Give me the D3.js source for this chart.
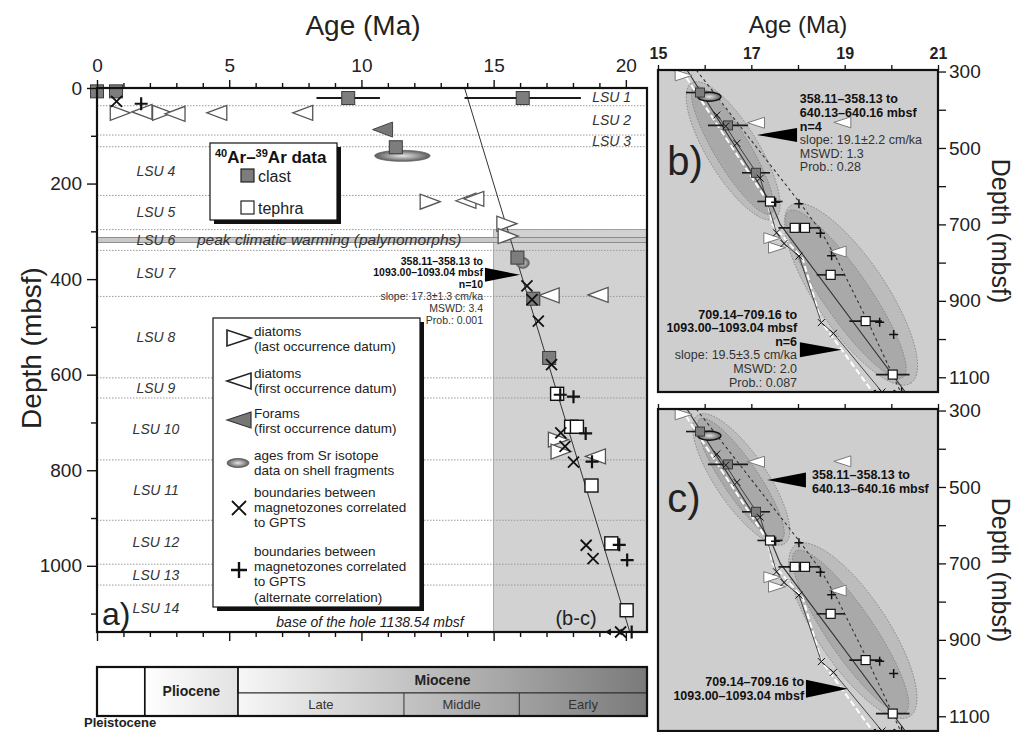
<!DOCTYPE html>
<html>
<head>
<meta charset="utf-8">
<script src="https://cdn.jsdelivr.net/npm/d3@7"></script>
<style>
  html, body { margin: 0; padding: 0; background: #fff; }
  svg { display: block; }
</style>
</head>
<body>
<svg id="chart" width="1015" height="732"></svg>
<script>
// ---------------- data ----------------
const ageTicksMain = [0, 5, 10, 15, 20];
const depthTicksMain = [0, 200, 400, 600, 800, 1000];
const ageTicksZoom = [15, 17, 19, 21];
const depthTicksZoom = [300, 500, 700, 900, 1100];
const holeBase = 1138.54;

// lithostratigraphic unit boundaries (mbsf) and names
const lsuBoundaries = [37.07, 98.47, 122.86, 224.82, 296.34, 339.92, 436.18, 606.70, 648.74, 778.34, 904.66, 996.69, 1040.28];
const lsuNames = ["LSU 1", "LSU 2", "LSU 3", "LSU 4", "LSU 5", "LSU 6", "LSU 7", "LSU 8", "LSU 9", "LSU 10", "LSU 11", "LSU 12", "LSU 13", "LSU 14"];
const warmingDepth = 318;

// [age (Ma), depth (mbsf), age uncertainty (Ma)]
const clastAges = [[0.0, 7, 0], [0.72, 7, 0], [9.5, 21, 1.2], [16.1, 21, 2.2], [11.3, 124, 0],
                   [15.9, 355, 0.3], [16.5, 441, 0.43], [17.1, 565, 0.3]];
const tephraAges = [[17.4, 640, 0.27], [17.93, 709, 0.35], [18.15, 709, 0.33], [18.7, 832, 0.3],
                    [19.45, 953, 0.35], [20.03, 1093, 0.36]];
const srAges = [[11.55, 142, 1.05], [16.1, 366, 0.25]];
// [age (Ma), depth (mbsf)]
const diatomLO = [[0.88, 52], [2.48, 52], [12.6, 238], [15.5, 284], [15.55, 310], [17.45, 736], [17.55, 761]];
const diatomFO = [[1.7, 50], [2.95, 54], [4.53, 52], [7.78, 52], [13.95, 236], [14.25, 232], [17.1, 434], [18.95, 433], [18.85, 771]];
const foramFO = [[10.8, 87]];
const magBounds = [[0.74, 28], [16.26, 414], [16.45, 443], [16.69, 488], [17.19, 579], [17.54, 722], [17.7, 750],
                   [18.02, 783], [18.5, 957], [18.76, 985], [19.8, holeBase]];
const magBoundsAlt = [[1.67, 33], [17.52, 642], [18.02, 646], [18.48, 723], [18.72, 782], [19.75, 956], [20.05, 988], [20.22, holeBase]];

// age model (panel a) and fitted lines / error ellipses (panels b, c)
const ageModel = [[13.9, 0], [20.15, holeBase]];
const fitSolid = [[15.62, 296], [17.45, 650], [17.62, 700], [20.3, holeBase]];
const fitDashed = [[15.82, 296], [18.05, 645], [18.5, 720], [18.85, 795], [19.5, 955], [20.2, holeBase]];
const fitWhite = [[15.5, 296], [17.35, 640], [17.45, 700], [18.1, 790], [18.5, 955], [19.6, holeBase]];
const ellipsesB = [
  { from: [15.72, 330], to: [17.5, 685], hw: 0.55, tone: "outer" },
  { from: [15.78, 340], to: [17.42, 672], hw: 0.38, tone: "inner" },
  { from: [17.85, 650], to: [20.42, 1115], hw: 0.75, tone: "outer" },
  { from: [17.8, 665], to: [20.25, 1100], hw: 0.5, tone: "inner" }
];
const ellipsesC = [
  { from: [15.85, 312], to: [17.72, 648], hw: 0.55, tone: "outer" },
  { from: [15.9, 322], to: [17.65, 638], hw: 0.38, tone: "inner" },
  { from: [17.95, 652], to: [20.4, 1100], hw: 0.75, tone: "outer" },
  { from: [17.95, 668], to: [20.3, 1090], hw: 0.5, tone: "inner" }
];

// fit statistics
const noteA = { anchor: [14.6, 362], tip: [16.0, 391], base: 14.67, half: 7, align: "end",
  lines: [["358.11–358.13 to", 1], ["1093.00–1093.04 mbsf", 1], ["n=10", 1], ["slope: 17.3±1.3 cm/ka", 0], ["MSWD: 3.4", 0], ["Prob.: 0.001", 0]] };
const notesB = [
  { anchor: [18.04, 372], tip: [17.12, 466], base: 17.98, half: 7, align: "start",
    lines: [["358.11–358.13 to", 1], ["640.13–640.16 mbsf", 1], ["n=4", 1], ["slope: 19.1±2.2 cm/ka", 0], ["MSWD: 1.3", 0], ["Prob.: 0.28", 0]] },
  { anchor: [17.98, 935], tip: [18.94, 1028], base: 18.04, half: 7.5, align: "end",
    lines: [["709.14–709.16 to", 1], ["1093.00–1093.04 mbsf", 1], ["n=6", 1], ["slope: 19.5±3.5 cm/ka", 0], ["MSWD: 2.0", 0], ["Prob.: 0.087", 0]] }
];
const notesC = [
  { anchor: [18.3, 469], tip: [17.34, 482], base: 18.17, half: 7.5, align: "start",
    lines: [["358.11–358.13 to", 1], ["640.13–640.16 mbsf", 1]] },
  { anchor: [18.13, 1010], tip: [19.07, 1028], base: 18.17, half: 9, align: "end",
    lines: [["709.14–709.16 to", 1], ["1093.00–1093.04 mbsf", 1]] }
];

// geological time scale (Ma)
const epochs = [{ name: "Pleistocene", from: 0, to: 1.806 }, { name: "Pliocene", from: 1.806, to: 5.332 }, { name: "Miocene", from: 5.332, to: 23.03 }];
const mioceneParts = [{ name: "Late", from: 5.332, to: 11.608 }, { name: "Middle", from: 11.608, to: 15.97 }, { name: "Early", from: 15.97, to: 23.03 }];

// ---------------- drawing ----------------
const FONT = '"Liberation Sans", Arial, Helvetica, sans-serif';
const svg = d3.select("#chart").attr("font-family", FONT);
const defs = svg.append("defs");

const srFill = defs.append("radialGradient").attr("id", "srFill");
srFill.append("stop").attr("offset", "0%").attr("stop-color", "#e4e4e4");
srFill.append("stop").attr("offset", "55%").attr("stop-color", "#9c9c9c");
srFill.append("stop").attr("offset", "100%").attr("stop-color", "#5a5a5a");

const mioFill = defs.append("linearGradient").attr("id", "mioFill").attr("x1", 0).attr("x2", 1).attr("y1", 0).attr("y2", 0);
mioFill.append("stop").attr("offset", "0%").attr("stop-color", "#f7f7f7");
mioFill.append("stop").attr("offset", "100%").attr("stop-color", "#7a7a7a");
const plioFill = defs.append("linearGradient").attr("id", "plioFill").attr("x1", 0).attr("x2", 1).attr("y1", 0).attr("y2", 0);
plioFill.append("stop").attr("offset", "0%").attr("stop-color", "#ffffff");
plioFill.append("stop").attr("offset", "100%").attr("stop-color", "#e2e2e2");

const line = (x, y) => d3.line().x(d => x(d[0])).y(d => y(d[1]));

function drawPoints(g, x, y, S) {
  const withErr = clastAges.concat(tephraAges).filter(d => d[2] >= S.minErr && d[2] > 0);
  g.append("g").selectAll("line").data(withErr).join("line")
    .attr("x1", d => x(d[0] - d[2])).attr("x2", d => x(d[0] + d[2]))
    .attr("y1", d => y(d[1])).attr("y2", d => y(d[1]))
    .attr("stroke", "#1a1a1a").attr("stroke-width", S.ebw);
  g.append("g").selectAll("ellipse").data(srAges).join("ellipse")
    .attr("cx", d => x(d[0])).attr("cy", d => y(d[1]))
    .attr("rx", d => x(d[0] + d[2]) - x(d[0])).attr("ry", S.srH)
    .attr("fill", "url(#srFill)").attr("stroke", S.srStroke).attr("stroke-width", S.srSw);
  g.append("g").selectAll("rect").data(clastAges).join("rect")
    .attr("x", d => x(d[0]) - S.sq / 2).attr("y", d => y(d[1]) - S.sq / 2)
    .attr("width", S.sq).attr("height", S.sq)
    .attr("fill", "#7d7d7d").attr("stroke", "#3a3a3a").attr("stroke-width", 1);
  g.append("g").selectAll("rect").data(tephraAges).join("rect")
    .attr("x", d => x(d[0]) - S.sq / 2).attr("y", d => y(d[1]) - S.sq / 2)
    .attr("width", S.sq).attr("height", S.sq)
    .attr("fill", "#fff").attr("stroke", "#111").attr("stroke-width", S.sqSw);
  const tri = (dir) => d => {
    const cx = x(d[0]), cy = y(d[1]), w = S.triW / 2, h = S.triH / 2;
    return dir > 0 ? `M${cx + w},${cy}L${cx - w},${cy - h}L${cx - w},${cy + h}Z`
                   : `M${cx - w},${cy}L${cx + w},${cy - h}L${cx + w},${cy + h}Z`;
  };
  g.append("g").selectAll("path").data(diatomLO).join("path").attr("d", tri(1))
    .attr("fill", "#fff").attr("stroke", S.triStroke).attr("stroke-width", S.triSw);
  g.append("g").selectAll("path").data(diatomFO).join("path").attr("d", tri(-1))
    .attr("fill", "#fff").attr("stroke", S.triStroke).attr("stroke-width", S.triSw);
  g.append("g").selectAll("path").data(foramFO).join("path").attr("d", tri(-1))
    .attr("fill", "#777").attr("stroke", "#444").attr("stroke-width", 1);
  const xs = S.cross / 2, ps = S.plus / 2;
  g.append("g").selectAll("path").data(magBounds).join("path")
    .attr("d", d => { const cx = x(d[0]), cy = y(d[1]); return `M${cx - xs},${cy - xs}L${cx + xs},${cy + xs}M${cx - xs},${cy + xs}L${cx + xs},${cy - xs}`; })
    .attr("stroke", "#111").attr("stroke-width", S.crossSw).attr("fill", "none");
  g.append("g").selectAll("path").data(magBoundsAlt).join("path")
    .attr("d", d => { const cx = x(d[0]), cy = y(d[1]); return `M${cx - ps},${cy}L${cx + ps},${cy}M${cx},${cy - ps}L${cx},${cy + ps}`; })
    .attr("stroke", "#111").attr("stroke-width", S.plusSw).attr("fill", "none");
  // boundaries at the base of the hole are minimum ages: small arrows pointing younger
  const atBase = magBounds.concat(magBoundsAlt).filter(d => d[1] === holeBase);
  g.append("g").selectAll("path").data(atBase).join("path")
    .attr("d", d => { const cx = x(d[0]) - S.cross * 0.6, cy = y(d[1]); const a = S.arrow;
      return `M${cx},${cy}L${cx - a * 1.6},${cy}M${cx - a * 1.6},${cy}L${cx - a * 0.7},${cy - a * 0.55}L${cx - a * 0.7},${cy + a * 0.55}Z`; })
    .attr("stroke", "#111").attr("fill", "#111").attr("stroke-width", 1);
}

function drawNote(g, x, y, note, fs, lh) {
  const ty = y(note.anchor[1]);
  g.append("path")
    .attr("d", `M${x(note.base)},${y(note.tip[1]) - note.half}L${x(note.tip[0])},${y(note.tip[1])}L${x(note.base)},${y(note.tip[1]) + note.half}Z`)
    .attr("fill", "#000");
  g.append("g").selectAll("text").data(note.lines).join("text")
    .attr("x", x(note.anchor[0])).attr("y", (d, i) => ty + i * lh)
    .attr("dy", "0.35em").attr("text-anchor", note.align)
    .attr("font-size", fs).attr("font-weight", d => d[1] ? "bold" : "normal")
    .attr("fill", d => d[1] ? "#111" : "#333")
    .text(d => d[0]);
}

// ---------- panel a ----------
const A = { l: 97, r: 647, t: 88, b: 632 };
const xA = d3.scaleLinear().domain([0, 20.8]).range([A.l, A.r]);
const yA = d3.scaleLinear().domain([0, holeBase]).range([A.t, A.b]);
const gA = svg.append("g");

gA.append("rect").attr("x", xA(15)).attr("y", yA(296)).attr("width", A.r - xA(15)).attr("height", A.b - yA(296))
  .attr("fill", "#d2d2d2").attr("stroke", "#9a9a9a").attr("stroke-width", 0.8);

gA.append("g").selectAll("line").data(lsuBoundaries).join("line")
  .attr("x1", A.l).attr("x2", A.r).attr("y1", d => yA(d)).attr("y2", d => yA(d))
  .attr("stroke", "#9a9a9a").attr("stroke-width", 1).attr("stroke-dasharray", "1.5,1.5");

gA.append("rect").attr("x", A.l).attr("width", A.r - A.l).attr("y", yA(warmingDepth) - 2.5).attr("height", 5)
  .attr("fill", "#c9c9c9").attr("stroke", "#858585").attr("stroke-width", 0.9);

const lsuEdges = [0].concat(lsuBoundaries, [holeBase]);
gA.append("g").selectAll("text").data(lsuNames).join("text")
  .attr("x", (d, i) => i < 3 ? xA(20.2) : xA(2.23))
  .attr("y", (d, i) => yA((lsuEdges[i] + lsuEdges[i + 1]) / 2))
  .attr("dy", "0.35em").attr("text-anchor", (d, i) => i < 3 ? "end" : "middle")
  .attr("font-size", 14).attr("font-style", "italic").attr("fill", "#333").text(d => d);
gA.append("text").attr("x", 197).attr("y", yA(warmingDepth)).attr("dy", "0.35em")
  .attr("font-size", 15.5).attr("font-style", "italic").attr("fill", "#333")
  .text("peak climatic warming (palynomorphs)");

gA.append("path").datum(ageModel).attr("d", line(xA, yA)).attr("fill", "none").attr("stroke", "#333").attr("stroke-width", 1);

drawPoints(gA, xA, yA, { sq: 13, sqSw: 1.4, ebw: 2, minErr: 1, srH: 5.5, srStroke: "#666", srSw: 0.8,
  triW: 20, triH: 15, triStroke: "#555", triSw: 1.3, cross: 11, crossSw: 1.8, plus: 13, plusSw: 2.2, arrow: 5 });

drawNote(gA, xA, yA, noteA, 10.5, 11.8);

// legend: 40Ar-39Ar data
const L1 = { x: 210, y: 143, w: 127, h: 77 };
gA.append("rect").attr("x", L1.x + 4).attr("y", L1.y + 4).attr("width", L1.w).attr("height", L1.h).attr("fill", "#111");
gA.append("rect").attr("x", L1.x).attr("y", L1.y).attr("width", L1.w).attr("height", L1.h).attr("fill", "#fff").attr("stroke", "#111").attr("stroke-width", 1.2);
const t1 = gA.append("text").attr("x", L1.x + 5).attr("y", L1.y + 20).attr("font-size", 17).attr("font-weight", "bold").attr("fill", "#111");
t1.append("tspan").attr("font-size", 11).attr("dy", -6).text("40");
t1.append("tspan").attr("dy", 6).text("Ar–");
t1.append("tspan").attr("font-size", 11).attr("dy", -6).text("39");
t1.append("tspan").attr("dy", 6).text("Ar data");
const arLegend = [{ fill: "#7d7d7d", label: "clast", y: 176 }, { fill: "#fff", label: "tephra", y: 208 }];
gA.append("g").selectAll("rect").data(arLegend).join("rect")
  .attr("x", 241).attr("y", d => d.y - 7).attr("width", 13).attr("height", 13)
  .attr("fill", d => d.fill).attr("stroke", "#222").attr("stroke-width", 1.2);
gA.append("g").selectAll("text").data(arLegend).join("text")
  .attr("x", 258).attr("y", d => d.y).attr("dy", "0.35em").attr("font-size", 16).attr("fill", "#222").text(d => d.label);

// legend: symbols
const L2 = { x: 213, y: 318, w: 207, h: 289 };
gA.append("rect").attr("x", L2.x + 4).attr("y", L2.y + 4).attr("width", L2.w).attr("height", L2.h).attr("fill", "#111");
gA.append("rect").attr("x", L2.x).attr("y", L2.y).attr("width", L2.w).attr("height", L2.h).attr("fill", "#fff").attr("stroke", "#111").attr("stroke-width", 1.2);
const symLegend = [
  { sym: "LO", y: 338, lines: ["diatoms", "(last occurrence datum)"], ty: 331 },
  { sym: "FO", y: 381, lines: ["diatoms", "(first occurrence datum)"], ty: 373 },
  { sym: "FF", y: 420, lines: ["Forams", "(first occurrence datum)"], ty: 413 },
  { sym: "SR", y: 463, lines: ["ages from Sr isotope", "data on shell fragments"], ty: 455 },
  { sym: "X", y: 508, lines: ["boundaries between", "magnetozones correlated", "to GPTS"], ty: 492 },
  { sym: "P", y: 570, lines: ["boundaries between", "magnetozones correlated", "to GPTS", "(alternate correlation)"], ty: 551 }
];
symLegend.forEach(e => {
  const cx = 239, cy = e.y;
  if (e.sym === "LO") gA.append("path").attr("d", `M${cx + 12},${cy}L${cx - 12},${cy - 8}L${cx - 12},${cy + 8}Z`).attr("fill", "#fff").attr("stroke", "#222").attr("stroke-width", 1.6);
  if (e.sym === "FO") gA.append("path").attr("d", `M${cx - 12},${cy}L${cx + 12},${cy - 8}L${cx + 12},${cy + 8}Z`).attr("fill", "#fff").attr("stroke", "#222").attr("stroke-width", 1.6);
  if (e.sym === "FF") gA.append("path").attr("d", `M${cx - 12},${cy}L${cx + 12},${cy - 8}L${cx + 12},${cy + 8}Z`).attr("fill", "#777").attr("stroke", "#333").attr("stroke-width", 1.2);
  if (e.sym === "SR") gA.append("ellipse").attr("cx", cx - 1).attr("cy", cy).attr("rx", 11).attr("ry", 4.5).attr("fill", "url(#srFill)").attr("stroke", "#555").attr("stroke-width", 0.8);
  if (e.sym === "X") gA.append("path").attr("d", `M${cx - 7},${cy - 7}L${cx + 7},${cy + 7}M${cx - 7},${cy + 7}L${cx + 7},${cy - 7}`).attr("stroke", "#111").attr("stroke-width", 1.8);
  if (e.sym === "P") gA.append("path").attr("d", `M${cx - 8},${cy}L${cx + 8},${cy}M${cx},${cy - 8}L${cx},${cy + 8}`).attr("stroke", "#111").attr("stroke-width", 2.4);
  gA.append("g").selectAll("text").data(e.lines).join("text")
    .attr("x", 254).attr("y", (d, i) => e.ty + i * 15.3).attr("dy", "0.35em")
    .attr("font-size", 13.5).attr("fill", "#222").text(d => d);
});

gA.append("text").attr("x", 370).attr("y", 622).attr("dy", "0.35em").attr("text-anchor", "middle")
  .attr("font-size", 14).attr("font-style", "italic").attr("fill", "#222").text("base of the hole 1138.54 mbsf");
gA.append("text").attr("x", 576).attr("y", 618).attr("dy", "0.35em").attr("text-anchor", "middle")
  .attr("font-size", 20).attr("fill", "#222").text("(b-c)");
gA.append("text").attr("x", 102).attr("y", 625).attr("font-size", 32).attr("fill", "#222").text("a)");

// axes of panel a
const axTop = gA.append("g").attr("transform", `translate(0,${A.t})`)
  .call(d3.axisTop(xA).tickValues(d3.range(0, 21, 1)).tickSize(8).tickPadding(8)
    .tickFormat(d => ageTicksMain.includes(d) ? d : ""));
axTop.selectAll(".tick line").attr("y2", d => d % 5 === 0 ? -8 : -5);
const axLeft = gA.append("g").attr("transform", `translate(${A.l},0)`)
  .call(d3.axisLeft(yA).tickValues(d3.range(0, 1101, 100)).tickSize(10).tickPadding(5)
    .tickFormat(d => depthTicksMain.includes(d) ? d : ""));
axLeft.selectAll(".tick line").attr("x2", d => d % 200 === 0 ? -10 : -6);
const axBottom = gA.append("g").attr("transform", `translate(0,${A.b})`)
  .call(d3.axisBottom(xA).tickValues(d3.range(0, 21, 1)).tickSize(9).tickFormat(""));
axBottom.selectAll(".tick line").attr("y2", d => d % 5 === 0 ? 9 : 5);
[axTop, axLeft, axBottom].forEach(ax => {
  ax.attr("font-family", FONT).attr("font-size", 19);
  ax.select(".domain").remove();
  ax.selectAll(".tick line").attr("stroke", "#111").attr("stroke-width", 1.4);
  ax.selectAll("text").attr("fill", "#222");
});
gA.append("rect").attr("x", A.l).attr("y", A.t).attr("width", A.r - A.l).attr("height", A.b - A.t)
  .attr("fill", "none").attr("stroke", "#111").attr("stroke-width", 2.2);

svg.append("text").attr("x", 363).attr("y", 25).attr("dy", "0.35em").attr("text-anchor", "middle")
  .attr("font-size", 28).attr("fill", "#222").text("Age (Ma)");
svg.append("text").attr("transform", "translate(31,348) rotate(-90)").attr("dy", "0.35em").attr("text-anchor", "middle")
  .attr("font-size", 28).attr("fill", "#222").text("Depth (mbsf)");

// ---------- time scale ----------
const TS = { t: 667, m: 693, b: 716 };
const clampAge = a => Math.min(a, 20.8);
const gT = svg.append("g");
epochs.forEach(e => {
  const x0 = xA(e.from), x1 = xA(clampAge(e.to));
  const full = e.name !== "Miocene";
  gT.append("rect").attr("x", x0).attr("y", TS.t).attr("width", x1 - x0).attr("height", full ? TS.b - TS.t : TS.m - TS.t)
    .attr("fill", e.name === "Pleistocene" ? "#fff" : e.name === "Pliocene" ? "url(#plioFill)" : "url(#mioFill)")
    .attr("stroke", "#222").attr("stroke-width", 1);
  if (e.name !== "Pleistocene") {
    gT.append("text").attr("x", (x0 + x1) / 2).attr("y", full ? (TS.t + TS.b) / 2 : (TS.t + TS.m) / 2).attr("dy", "0.35em")
      .attr("text-anchor", "middle").attr("font-size", 14).attr("font-weight", "bold").attr("fill", "#222").text(e.name);
  }
});
// one gradient across the lower Miocene row so the shading runs continuously
gT.append("rect").attr("x", xA(5.332)).attr("y", TS.m).attr("width", A.r - xA(5.332)).attr("height", TS.b - TS.m)
  .attr("fill", "url(#mioFill)");
mioceneParts.forEach((p, i) => {
  const x0 = xA(p.from), x1 = xA(clampAge(p.to));
  if (i > 0) gT.append("line").attr("x1", x0).attr("x2", x0).attr("y1", TS.m).attr("y2", TS.b).attr("stroke", "#333").attr("stroke-width", 1);
  gT.append("text").attr("x", (x0 + x1) / 2).attr("y", (TS.m + TS.b) / 2).attr("dy", "0.35em")
    .attr("text-anchor", "middle").attr("font-size", 13).attr("fill", "#333").text(p.name);
});
gT.append("line").attr("x1", xA(5.332)).attr("x2", A.r).attr("y1", TS.m).attr("y2", TS.m).attr("stroke", "#333").attr("stroke-width", 1);
gT.append("rect").attr("x", A.l).attr("y", TS.t).attr("width", A.r - A.l).attr("height", TS.b - TS.t)
  .attr("fill", "none").attr("stroke", "#111").attr("stroke-width", 2.2);
gT.append("line").attr("x1", xA(1.806)).attr("x2", xA(1.806)).attr("y1", TS.t).attr("y2", TS.b).attr("stroke", "#111").attr("stroke-width", 1.6);
gT.append("line").attr("x1", xA(5.332)).attr("x2", xA(5.332)).attr("y1", TS.t).attr("y2", TS.b).attr("stroke", "#111").attr("stroke-width", 1.6);
gT.append("text").attr("x", 84).attr("y", 722).attr("dy", "0.35em").attr("font-size", 13).attr("font-weight", "bold")
  .attr("fill", "#222").text("Pleistocene");

// ---------- panels b and c ----------
const Z = { l: 658, r: 938 };
const xZ = d3.scaleLinear().domain([15, 21]).range([Z.l, Z.r]);

function zoomPanel(id, top, bottom, ellipses, notes, label, showAgeLabels) {
  const y = d3.scaleLinear().domain([296, holeBase]).range([top, bottom]);
  const g = svg.append("g");
  defs.append("clipPath").attr("id", id).append("rect").attr("x", Z.l).attr("y", top).attr("width", Z.r - Z.l).attr("height", bottom - top);
  g.append("rect").attr("x", Z.l).attr("y", top).attr("width", Z.r - Z.l).attr("height", bottom - top).attr("fill", "#cecece");
  const inner = g.append("g").attr("clip-path", `url(#${id})`);
  ellipses.forEach(e => {
    const x1 = xZ(e.from[0]), y1 = y(e.from[1]), x2 = xZ(e.to[0]), y2 = y(e.to[1]);
    const ang = Math.atan2(y2 - y1, x2 - x1) * 180 / Math.PI;
    inner.append("ellipse").attr("transform", `translate(${(x1 + x2) / 2},${(y1 + y2) / 2}) rotate(${ang})`)
      .attr("rx", Math.hypot(x2 - x1, y2 - y1) / 2).attr("ry", xZ(15 + e.hw) - xZ(15))
      .attr("fill", e.tone === "outer" ? "#bcbcbc" : "#a9a9a9")
      .attr("stroke", "#7a7a7a").attr("stroke-width", 0.8).attr("stroke-dasharray", "1.5,1.5");
  });
  inner.append("path").datum(fitWhite).attr("d", line(xZ, y)).attr("fill", "none").attr("stroke", "#fff").attr("stroke-width", 2).attr("stroke-dasharray", "6,3");
  inner.append("path").datum(fitSolid).attr("d", line(xZ, y)).attr("fill", "none").attr("stroke", "#333").attr("stroke-width", 1.1);
  inner.append("path").datum(fitDashed).attr("d", line(xZ, y)).attr("fill", "none").attr("stroke", "#333").attr("stroke-width", 1.1).attr("stroke-dasharray", "3,3");
  inner.append("path").datum(magBounds.filter(d => d[0] > 15)).attr("d", line(xZ, y)).attr("fill", "none").attr("stroke", "#222").attr("stroke-width", 0.8);
  drawPoints(inner, xZ, y, { sq: 9, sqSw: 1.2, ebw: 1.6, minErr: 0, srH: 4.5, srStroke: "#111", srSw: 1.3,
    triW: 17, triH: 11, triStroke: "#7a7a7a", triSw: 1, cross: 7, crossSw: 1, plus: 9, plusSw: 1.5, arrow: 3.5 });
  notes.forEach(n => drawNote(g, xZ, y, n, 12.5, 13.6));
  g.append("text").attr("x", xZ(15.2)).attr("y", y(label[1])).attr("dy", "0.35em").attr("font-size", 40).attr("fill", "#222").text(label[0]);

  const axT = g.append("g").attr("transform", `translate(0,${top})`)
    .call(d3.axisTop(xZ).tickValues(d3.range(15, 22, 1)).tickSize(5).tickPadding(6)
      .tickFormat(d => showAgeLabels && ageTicksZoom.includes(d) ? d : ""));
  const axR = g.append("g").attr("transform", `translate(${Z.r},0)`)
    .call(d3.axisRight(y).tickValues(d3.range(300, 1101, 100)).tickSize(8).tickPadding(3)
      .tickFormat(d => depthTicksZoom.includes(d) ? d : ""));
  [axT, axR].forEach(ax => {
    ax.attr("font-family", FONT);
    ax.select(".domain").remove();
    ax.selectAll(".tick line").attr("stroke", "#111").attr("stroke-width", 1.3);
    ax.selectAll("text").attr("fill", "#222");
  });
  axT.attr("font-size", 16).attr("font-weight", "bold");
  axR.attr("font-size", 19);
  g.append("rect").attr("x", Z.l).attr("y", top).attr("width", Z.r - Z.l).attr("height", bottom - top)
    .attr("fill", "none").attr("stroke", "#111").attr("stroke-width", 2.2);
  g.append("text").attr("transform", `translate(1001,${(top + bottom) / 2}) rotate(90)`).attr("dy", "0.35em")
    .attr("text-anchor", "middle").attr("font-size", 25).attr("fill", "#222").text("Depth (mbsf)");
}

zoomPanel("clipB", 70, 392, ellipsesB, notesB, ["b)", 535], true);
zoomPanel("clipC", 409, 731, ellipsesC, notesC, ["c)", 530], false);

svg.append("text").attr("x", 798).attr("y", 25).attr("dy", "0.35em").attr("text-anchor", "middle")
  .attr("font-size", 24).attr("fill", "#222").text("Age (Ma)");
</script>
</body>
</html>
